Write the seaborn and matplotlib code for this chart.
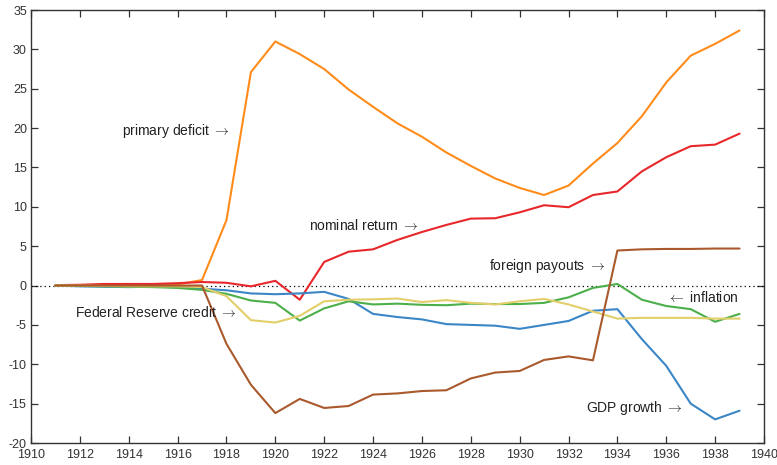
import matplotlib
matplotlib.use("Agg")
import matplotlib.pyplot as plt
import seaborn as sns
import pandas as pd
import numpy as np

years = list(range(1911, 1940))

primary_deficit = [0.0, 0.0, 0.05, 0.05, 0.1, 0.15, 0.7, 8.3, 27.1, 31.0, 29.4, 27.5, 24.9,
                   22.7, 20.6, 18.9, 16.9, 15.2, 13.6, 12.4, 11.5, 12.7, 15.5, 18.1, 21.5,
                   25.8, 29.2, 30.7, 32.4]
nominal_return = [0.05, 0.1, 0.2, 0.2, 0.2, 0.3, 0.45, 0.35, -0.1, 0.6, -1.8, 3.0, 4.3,
                  4.6, 5.8, 6.8, 7.7, 8.5, 8.55, 9.3, 10.2, 9.95, 11.5, 11.95, 14.5,
                  16.3, 17.7, 17.9, 19.3]
gdp_growth = [0.0, -0.1, -0.15, -0.2, -0.15, -0.2, -0.4, -0.6, -1.0, -1.1, -1.0, -0.8, -1.7,
              -3.6, -4.0, -4.3, -4.9, -5.0, -5.1, -5.5, -5.0, -4.5, -3.2, -3.0, -6.8,
              -10.2, -15.0, -17.0, -15.9]
inflation = [0.0, -0.05, -0.1, -0.15, -0.2, -0.3, -0.55, -1.05, -1.9, -2.2, -4.45, -2.9, -2.0,
             -2.4, -2.3, -2.45, -2.5, -2.3, -2.35, -2.35, -2.2, -1.5, -0.3, 0.2, -1.8,
             -2.6, -3.0, -4.6, -3.6]
fed_credit = [0.0, 0.0, -0.05, -0.1, -0.1, -0.1, -0.2, -1.35, -4.4, -4.7, -3.85, -2.0, -1.8,
              -1.75, -1.65, -2.1, -1.85, -2.2, -2.4, -2.0, -1.7, -2.4, -3.3, -4.2, -4.1,
              -4.1, -4.1, -4.2, -4.2]
foreign_payouts = [0.0, 0.0, 0.0, 0.0, 0.0, 0.0, 0.0, -7.4, -12.6, -16.2, -14.4, -15.55, -15.3,
                   -13.85, -13.7, -13.4, -13.3, -11.8, -11.05, -10.85, -9.45, -9.0, -9.5, 4.45, 4.6,
                   4.65, 4.65, 4.7, 4.7]

series_names = ["primary deficit", "nominal return", "GDP growth", "inflation",
                "Federal Reserve credit", "foreign payouts"]
series_values = [primary_deficit, nominal_return, gdp_growth, inflation, fed_credit, foreign_payouts]
colors = ["#ff8c1a", "#e8272a", "#3b86c6", "#4caf4a", "#e2cf6a", "#a9592c"]

x_ticks = list(range(1910, 1941, 2))
y_ticks = list(range(-20, 36, 5))

RA = r"$\rightarrow$"
LA = r"$\leftarrow$"
labels = [
    ("primary deficit " + RA, 1918.15, 19.6, "right"),
    ("nominal return " + RA, 1925.9, 7.6, "right"),
    ("foreign payouts " + RA, 1933.5, 2.5, "right"),
    (LA + " inflation", 1936.05, -1.5, "left"),
    ("Federal Reserve credit " + RA, 1918.4, -3.4, "right"),
    ("GDP growth " + RA, 1936.7, -15.5, "right"),
]

rows = []
for name, vals in zip(series_names, series_values):
    for yr, v in zip(years, vals):
        rows.append({"year": yr, "value": v, "series": name})
df = pd.DataFrame(rows)

sns.set_style("ticks")
plt.rcParams["font.family"] = ["Liberation Sans", "DejaVu Sans"]
plt.rcParams["axes.unicode_minus"] = False
plt.rcParams["mathtext.fontset"] = "cm"

fig = plt.figure(figsize=(7.77, 4.65), dpi=100)
ax = fig.add_axes([31 / 777, 22 / 465, 733 / 777, 433 / 465])

ax.axhline(0, color="black", lw=0.9, ls=(0, (1, 2.5)), zorder=1)

sns.lineplot(data=df, x="year", y="value", hue="series", hue_order=series_names,
             palette=dict(zip(series_names, colors)), lw=1.5, legend=False, ax=ax, zorder=3)

ax.set_xlim(1910, 1940)
ax.set_ylim(-20, 35)
ax.set_xticks(x_ticks)
ax.set_yticks(y_ticks)
ax.set_xlabel("")
ax.set_ylabel("")
for s in ax.spines.values():
    s.set_visible(True)
    s.set_color("#333333")
    s.set_linewidth(1.0)
ax.tick_params(direction="in", length=5, width=0.9, color="#333333",
               top=True, right=True, labelsize=9, labelcolor="#333333")
ax.tick_params(axis="y", pad=3)
ax.tick_params(axis="x", pad=4)

for txt, x, y, ha in labels:
    ax.text(x, y, txt, ha=ha, va="center", fontsize=10, color="#222222", zorder=4)

fig.savefig("out.png", dpi=100)
